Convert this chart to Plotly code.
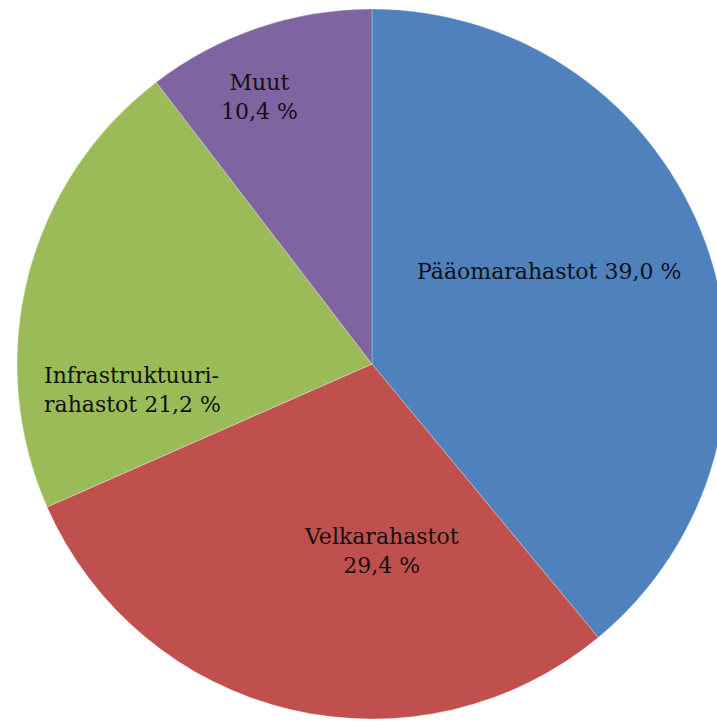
import plotly.graph_objects as go

labels = ["Pääomarahastot", "Velkarahastot", "Infrastruktuurirahastot", "Muut"]
values = [39.0, 29.4, 21.2, 10.4]
colors = ["#4F81BD", "#C0504D", "#9BBB59", "#8064A2"]
label_texts = ["Pääomarahastot {v} %", "Velkarahastot<br>{v} %", "Infrastruktuuri-<br>rahastot {v} %", "Muut<br>{v} %"]

W, H = 730, 722
cx, cy, r = 372, 364, 355

fig = go.Figure(go.Pie(
    labels=labels, values=values, sort=False, direction="clockwise", rotation=0,
    marker=dict(colors=colors, line=dict(color="rgba(255,255,255,0.35)", width=0.8)),
    textinfo="none", hoverinfo="label+percent", showlegend=False,
    domain=dict(x=[(cx - r) / W, (cx + r) / W], y=[(H - cy - r) / H, (H - cy + r) / H]),
))

def fmt(v):
    return f"{v:.1f}".replace(".", ",")

# label anchor positions (pixels) and alignment
pos = [(549, 272, "center"), (382, 551, "center"), (42, 390, "left"), (259, 97, "center")]
for t, v, (x, y, al) in zip(label_texts, values, pos):
    fig.add_annotation(
        x=x / W, y=1 - y / H, xref="paper", yref="paper",
        text=t.format(v=fmt(v)), showarrow=False,
        xanchor="left" if al == "left" else "center", yanchor="middle", align=al,
        font=dict(family="DejaVu Serif", size=22, color="#111111"),
    )

fig.update_layout(
    width=W, height=H, margin=dict(l=0, r=0, t=0, b=0),
    paper_bgcolor="white", plot_bgcolor="white",
)

fig.write_html("out.html", config={"displayModeBar": False},
               post_script="document.body.style.margin='0';document.body.style.overflow='hidden';")
